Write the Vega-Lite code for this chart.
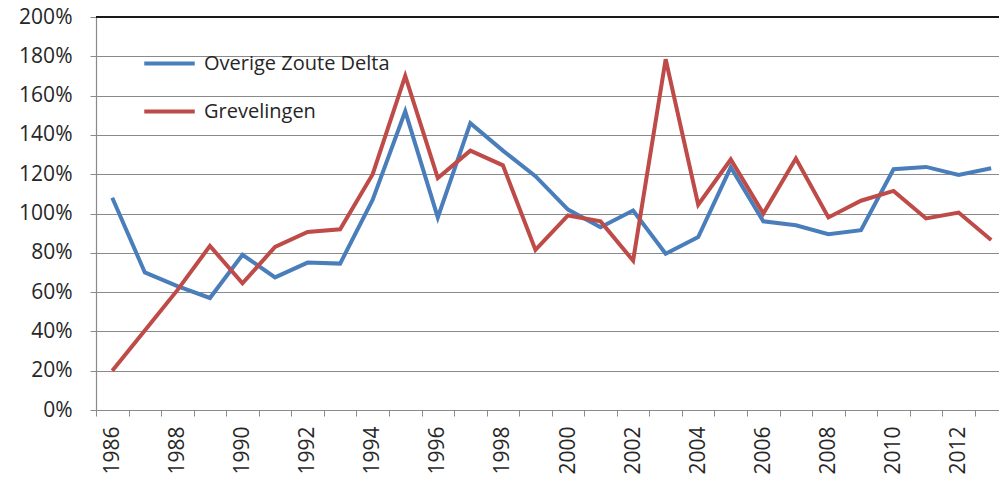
{
  "$schema": "https://vega.github.io/schema/vega-lite/v6.json",
  "width": 903,
  "height": 393,
  "autosize": {"type": "none"},
  "padding": {"left": 96, "top": 17, "right": 0, "bottom": 70},
  "background": "white",
  "config": {
    "view": {"stroke": null},
    "font": "Open Sans",
    "axis": {"labelFont": "Open Sans", "labelColor": "#262626"},
    "legend": {"labelFont": "Open Sans"}
  },
  "data": {
    "values": [
      {"year": 1986, "series": "Overige Zoute Delta", "value": 108},
      {"year": 1987, "series": "Overige Zoute Delta", "value": 70},
      {"year": 1988, "series": "Overige Zoute Delta", "value": 63},
      {"year": 1989, "series": "Overige Zoute Delta", "value": 57},
      {"year": 1990, "series": "Overige Zoute Delta", "value": 79},
      {"year": 1991, "series": "Overige Zoute Delta", "value": 67.5},
      {"year": 1992, "series": "Overige Zoute Delta", "value": 75},
      {"year": 1993, "series": "Overige Zoute Delta", "value": 74.5},
      {"year": 1994, "series": "Overige Zoute Delta", "value": 107},
      {"year": 1995, "series": "Overige Zoute Delta", "value": 152},
      {"year": 1996, "series": "Overige Zoute Delta", "value": 98},
      {"year": 1997, "series": "Overige Zoute Delta", "value": 146},
      {"year": 1998, "series": "Overige Zoute Delta", "value": 132},
      {"year": 1999, "series": "Overige Zoute Delta", "value": 119},
      {"year": 2000, "series": "Overige Zoute Delta", "value": 102},
      {"year": 2001, "series": "Overige Zoute Delta", "value": 93},
      {"year": 2002, "series": "Overige Zoute Delta", "value": 101.5},
      {"year": 2003, "series": "Overige Zoute Delta", "value": 79.5},
      {"year": 2004, "series": "Overige Zoute Delta", "value": 88},
      {"year": 2005, "series": "Overige Zoute Delta", "value": 123.5},
      {"year": 2006, "series": "Overige Zoute Delta", "value": 96},
      {"year": 2007, "series": "Overige Zoute Delta", "value": 94},
      {"year": 2008, "series": "Overige Zoute Delta", "value": 89.5},
      {"year": 2009, "series": "Overige Zoute Delta", "value": 91.5},
      {"year": 2010, "series": "Overige Zoute Delta", "value": 122.5},
      {"year": 2011, "series": "Overige Zoute Delta", "value": 123.7},
      {"year": 2012, "series": "Overige Zoute Delta", "value": 119.6},
      {"year": 2013, "series": "Overige Zoute Delta", "value": 123},
      {"year": 1986, "series": "Grevelingen", "value": 20},
      {"year": 1987, "series": "Grevelingen", "value": 40.5},
      {"year": 1988, "series": "Grevelingen", "value": 61},
      {"year": 1989, "series": "Grevelingen", "value": 83.5},
      {"year": 1990, "series": "Grevelingen", "value": 64.5},
      {"year": 1991, "series": "Grevelingen", "value": 83},
      {"year": 1992, "series": "Grevelingen", "value": 90.6},
      {"year": 1993, "series": "Grevelingen", "value": 92},
      {"year": 1994, "series": "Grevelingen", "value": 120},
      {"year": 1995, "series": "Grevelingen", "value": 170},
      {"year": 1996, "series": "Grevelingen", "value": 118},
      {"year": 1997, "series": "Grevelingen", "value": 132},
      {"year": 1998, "series": "Grevelingen", "value": 124.5},
      {"year": 1999, "series": "Grevelingen", "value": 81.5},
      {"year": 2000, "series": "Grevelingen", "value": 99},
      {"year": 2001, "series": "Grevelingen", "value": 96},
      {"year": 2002, "series": "Grevelingen", "value": 76},
      {"year": 2003, "series": "Grevelingen", "value": 178.5},
      {"year": 2004, "series": "Grevelingen", "value": 104.5},
      {"year": 2005, "series": "Grevelingen", "value": 127.5},
      {"year": 2006, "series": "Grevelingen", "value": 100},
      {"year": 2007, "series": "Grevelingen", "value": 128},
      {"year": 2008, "series": "Grevelingen", "value": 98},
      {"year": 2009, "series": "Grevelingen", "value": 106.5},
      {"year": 2010, "series": "Grevelingen", "value": 111.5},
      {"year": 2011, "series": "Grevelingen", "value": 97.5},
      {"year": 2012, "series": "Grevelingen", "value": 100.5},
      {"year": 2013, "series": "Grevelingen", "value": 86.5}
    ]
  },
  "layer": [
    {
      "mark": {"type": "line", "strokeWidth": 4, "strokeJoin": "miter", "strokeCap": "butt"},
      "encoding": {
        "x": {
          "field": "year",
          "type": "quantitative",
          "scale": {"domain": [1985.5, 2013.24], "nice": false, "zero": false},
          "axis": {
            "title": null,
            "values": [1985.5, 1986.5, 1987.5, 1988.5, 1989.5, 1990.5, 1991.5, 1992.5, 1993.5, 1994.5, 1995.5, 1996.5, 1997.5, 1998.5, 1999.5, 2000.5, 2001.5, 2002.5, 2003.5, 2004.5, 2005.5, 2006.5, 2007.5, 2008.5, 2009.5, 2010.5, 2011.5, 2012.5],
            "labelExpr": "(datum.value + 0.5) % 2 == 0 ? toString(datum.value + 0.5) : ''",
            "labelOffset": 16.3,
            "labelAngle": -90,
            "labelFontSize": 21,
            "labelPadding": 10,
            "labelOverlap": false,
            "labelFlush": false,
            "labelBound": false,
            "grid": false,
            "tickSize": 6,
            "tickColor": "#8a8a8a",
            "domainColor": "#8a8a8a",
            "domainWidth": 1.2
          }
        },
        "y": {
          "field": "value",
          "type": "quantitative",
          "scale": {"domain": [0, 200], "nice": false},
          "axis": {
            "title": null,
            "values": [0, 20, 40, 60, 80, 100, 120, 140, 160, 180, 200],
            "labelExpr": "datum.value + '%'",
            "labelFontSize": 21,
            "labelPadding": 18,
            "labelOverlap": false,
            "labelFlush": false,
            "grid": true,
            "tickSize": 6,
            "tickColor": "#8a8a8a",
            "domainColor": "#8a8a8a",
            "domainWidth": 1.2,
            "gridColor": "#8a8a8a",
            "gridWidth": 1.2
          }
        },
        "color": {
          "field": "series",
          "type": "nominal",
          "scale": {"domain": ["Overige Zoute Delta", "Grevelingen"], "range": ["#4a7ebb", "#be4b48"]},
          "legend": {
            "title": null,
            "orient": "none",
            "legendX": 46,
            "legendY": 19,
            "symbolType": "stroke",
            "symbolSize": 2550,
            "symbolStrokeWidth": 4,
            "labelFontSize": 20,
            "labelColor": "#262626",
            "labelLimit": 400,
            "labelOffset": 7,
            "rowPadding": 10
          }
        }
      }
    },
    {
      "mark": {"type": "rule", "color": "#1a1a1a", "strokeWidth": 1.5},
      "encoding": {
        "y": {
          "datum": 200,
          "type": "quantitative",
          "axis": {
            "title": null,
            "values": [0, 20, 40, 60, 80, 100, 120, 140, 160, 180, 200],
            "labelExpr": "datum.value + '%'",
            "labelFontSize": 21,
            "labelPadding": 18,
            "labelOverlap": false,
            "labelFlush": false,
            "grid": true,
            "tickSize": 6,
            "tickColor": "#8a8a8a",
            "domainColor": "#8a8a8a",
            "domainWidth": 1.2,
            "gridColor": "#8a8a8a",
            "gridWidth": 1.2
          }
        }
      }
    }
  ]
}
